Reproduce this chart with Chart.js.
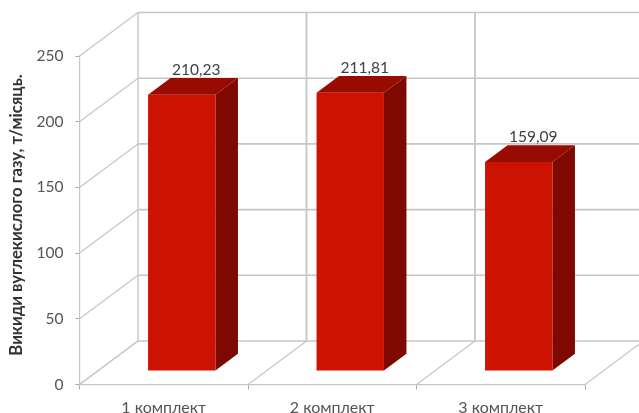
<!DOCTYPE html>
<html>
<head>
<meta charset="utf-8">
<script src="https://cdn.jsdelivr.net/npm/chart.js@4"></script>
<style>
html,body{margin:0;padding:0;background:#fff;overflow:hidden}
canvas{display:block}
</style>
</head>
<body>
<canvas id="c" width="639" height="413"></canvas>
<script>
// Monthly CO2 emissions per equipment set
const categories = ['1 комплект', '2 комплект', '3 комплект'];
const emissions = [210.23, 211.81, 159.09];
const yMin = 0;
const yMax = 250;
const yStep = 50;
const yTitle = 'Викиди вуглекислого газу, т/місяць.';

// Oblique projection of the 3D box
const wall = {dx: 58.5, dy: -43.5};
const barShift = {dx: 18, dy: -13.5};
const barDepth = {dx: 22.5, dy: -16.7};

const colors = {
  front: '#cc1200', top: '#970b00', side: '#7d0900',
  grid: '#c6c6c6', tick: '#555555', value: '#404040', title: '#333333'
};
const uiFont = 'Lato, "Open Sans", sans-serif';

const box3d = {
  id: 'box3d',
  beforeDatasetsDraw(chart) {
    const {ctx, scales: {x, y}} = chart;
    const left = x.left, right = x.right, base = y.bottom;
    const w = chart.width + 10;
    ctx.save();
    ctx.strokeStyle = colors.grid;
    const line = (x1, y1, x2, y2, lw) => {
      ctx.lineWidth = lw;
      ctx.beginPath();
      ctx.moveTo(x1, y1);
      ctx.lineTo(x2, y2);
      ctx.stroke();
    };
    const step = (right - left) / categories.length;
    // back wall verticals and floor diagonals
    for (let i = 0; i <= categories.length; i++) {
      const fx = left + step * i;
      line(fx + wall.dx, y.top + wall.dy, fx + wall.dx, base + wall.dy, i === 0 ? 1.4 : 1.8);
      line(fx, base, fx + wall.dx, base + wall.dy, 1.2);
    }
    // side wall diagonals and back wall horizontals at each tick
    y.ticks.forEach(t => {
      const py = y.getPixelForValue(t.value);
      line(left, py, left + wall.dx, py + wall.dy, 1.2);
      line(left + wall.dx, py + wall.dy, w, py + wall.dy, 1.6);
    });
    ctx.restore();
  },
  beforeDatasetDraw(chart, args) {
    const {ctx} = chart;
    const bars = chart.getDatasetMeta(args.index).data;
    ctx.save();
    bars.forEach(b => {
      const xl = b.x - b.width / 2 + barShift.dx;
      const xr = b.x + b.width / 2 + barShift.dx;
      const yt = b.y + barShift.dy;
      const yb = b.base + barShift.dy;
      ctx.fillStyle = colors.side;
      ctx.beginPath();
      ctx.moveTo(xr, yt);
      ctx.lineTo(xr + barDepth.dx, yt + barDepth.dy);
      ctx.lineTo(xr + barDepth.dx, yb + barDepth.dy);
      ctx.lineTo(xr, yb);
      ctx.closePath();
      ctx.fill();
      ctx.fillStyle = colors.top;
      ctx.beginPath();
      ctx.moveTo(xl, yt);
      ctx.lineTo(xl + barDepth.dx, yt + barDepth.dy);
      ctx.lineTo(xr + barDepth.dx, yt + barDepth.dy);
      ctx.lineTo(xr, yt);
      ctx.closePath();
      ctx.fill();
    });
    ctx.restore();
    // the library draws the front faces inside this offset
    ctx.save();
    ctx.translate(barShift.dx, barShift.dy);
  },
  afterDatasetDraw(chart) {
    chart.ctx.restore();
  },
  afterDatasetsDraw(chart) {
    const {ctx} = chart;
    const bars = chart.getDatasetMeta(0).data;
    ctx.save();
    ctx.fillStyle = colors.value;
    ctx.font = '15.5px ' + uiFont;
    ctx.textAlign = 'center';
    ctx.textBaseline = 'middle';
    bars.forEach((b, i) => {
      ctx.fillText(emissions[i].toFixed(2).replace('.', ','), b.x + 32.5, b.y - 38.5);
    });
    ctx.fillStyle = colors.title;
    ctx.font = 'bold 16.7px ' + uiFont;
    ctx.translate(17, 215);
    ctx.rotate(-Math.PI / 2);
    ctx.fillText(yTitle, 0, 0);
    ctx.restore();
  }
};

new Chart(document.getElementById('c'), {
  type: 'bar',
  data: {
    labels: categories,
    datasets: [{
      data: emissions,
      backgroundColor: colors.front,
      borderWidth: 0,
      categoryPercentage: 1,
      barPercentage: 0.4,
      clip: false
    }]
  },
  options: {
    responsive: false,
    animation: false,
    layout: {padding: {left: 0, right: 54, top: 56, bottom: 0}},
    plugins: {legend: {display: false}, tooltip: {enabled: false}},
    scales: {
      x: {
        afterFit(s) { s.height = 28.5; },
        border: {display: true, color: colors.grid, width: 1.2},
        grid: {display: true, drawOnChartArea: false, drawTicks: true, tickLength: 5, color: '#a8a8a8', offset: true},
        ticks: {color: colors.tick, font: {family: uiFont, size: 16}, padding: 9, maxRotation: 0}
      },
      y: {
        min: yMin,
        max: yMax,
        afterFit(s) { s.width = 79.5; },
        border: {display: true, color: colors.grid, width: 1.2},
        grid: {display: true, drawOnChartArea: false, drawTicks: true, tickLength: 4, color: '#a8a8a8'},
        ticks: {stepSize: yStep, color: colors.tick, font: {family: uiFont, size: 15.5}, padding: 12}
      }
    }
  },
  plugins: [box3d]
});
</script>
</body>
</html>
